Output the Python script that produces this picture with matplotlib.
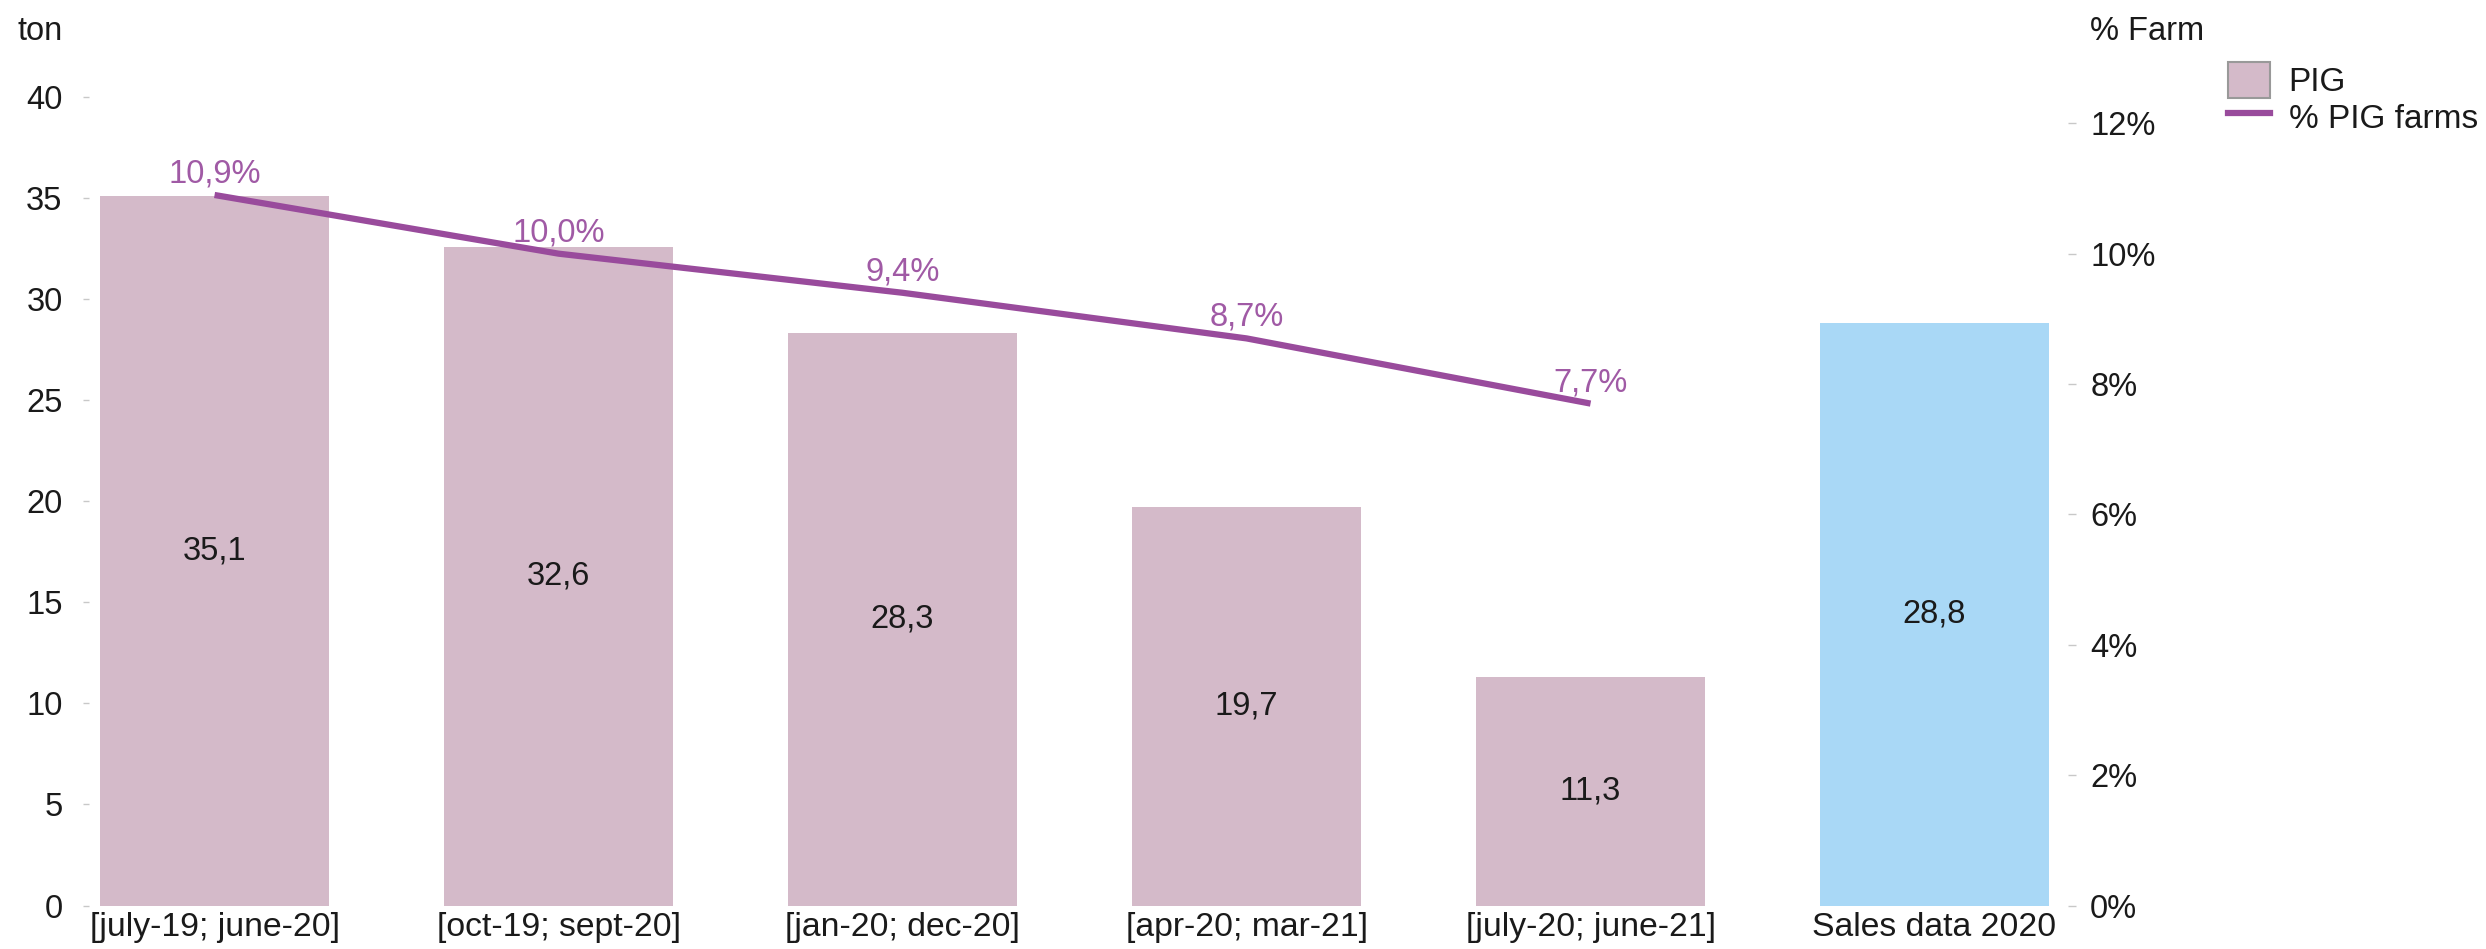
import matplotlib.pyplot as plt
from matplotlib.patches import Patch
from matplotlib.lines import Line2D
import numpy as np

plt.rcParams['font.family'] = ['Liberation Sans', 'DejaVu Sans']

categories = ['[july-19; june-20]', '[oct-19; sept-20]', '[jan-20; dec-20]',
              '[apr-20; mar-21]', '[july-20; june-21]', 'Sales data 2020']
tons = [35.1, 32.6, 28.3, 19.7, 11.3, 28.8]
pct_farms = [10.9, 10.0, 9.4, 8.7, 7.7]

pink = '#D4BAC9'
blue = '#A9D8F6'
purple = '#994B9C'
label_purple = '#A05AA5'
txt = '#1a1a1a'
fs = 23.5

fig = plt.figure(figsize=(24.86, 9.49), dpi=100)
ax = fig.add_axes([89 / 2486, 1 - 905.5 / 949, (2068 - 89) / 2486, (905.5 - 97) / 949])
ax2 = ax.twinx()

x = np.arange(len(categories))
colors = [pink] * 5 + [blue]
bars = ax.bar(x, tons, width=0.665, color=colors, zorder=2)
ax.bar_label(bars, labels=[f'{v:.1f}'.replace('.', ',') for v in tons],
             label_type='center', fontsize=fs, color=txt)

# % of farms on the right axis
xs = x[:len(pct_farms)]
ys = np.array(pct_farms) / 100
ax2.plot(xs, ys, color=purple, lw=4.5, solid_capstyle='butt')
for xi, yi, v in zip(xs, ys, pct_farms):
    ax2.annotate(f'{v:.1f}%'.replace('.', ','), (xi, yi), xytext=(0, 9),
                 textcoords='offset points', ha='center', va='baseline',
                 fontsize=fs, color=label_purple)

ax.set_xlim(-0.365, 5.388)
ax.set_ylim(0, 40)
ax2.set_ylim(0, (905.7 - 97) / 65.2 / 100)

ax.set_yticks(np.arange(0, 41, 5))
ax2.set_yticks(np.arange(0, 0.121, 0.02))
ax2.set_yticklabels([f'{int(round(t * 100))}%' for t in np.arange(0, 0.121, 0.02)])
ax.set_xticks(x)
ax.set_xticklabels(categories)

for a in (ax, ax2):
    for s in a.spines.values():
        s.set_visible(False)
ax.tick_params(axis='y', length=4, width=1, color='#C8C8C8', pad=15,
               labelsize=fs, labelcolor=txt)
ax2.tick_params(axis='y', length=6, width=1, color='#C8C8C8', pad=10,
                labelsize=fs, labelcolor=txt)
ax.tick_params(axis='x', length=0, pad=5, labelsize=24.3, labelcolor=txt)

fig.text(18 / 2486, 1 - 40 / 949, 'ton', fontsize=fs, color=txt, va='baseline', ha='left')
fig.text(2090 / 2486, 1 - 40 / 949, '% Farm', fontsize=fs, color=txt, va='baseline', ha='left')

handles = [Patch(facecolor=pink, edgecolor='#999999', linewidth=1.5),
           Line2D([0], [0], color=purple, lw=4.5)]
fig.legend(handles, ['PIG', '% PIG farms'], loc='upper left',
           bbox_to_anchor=(2228 / 2486, 1 - 62 / 949), frameon=False,
           fontsize=24, borderpad=0, borderaxespad=0, handlelength=1.27,
           handleheight=1.3, handletextpad=0.55, labelspacing=0.0,
           labelcolor=txt)

fig.savefig('out.png', dpi=100)
